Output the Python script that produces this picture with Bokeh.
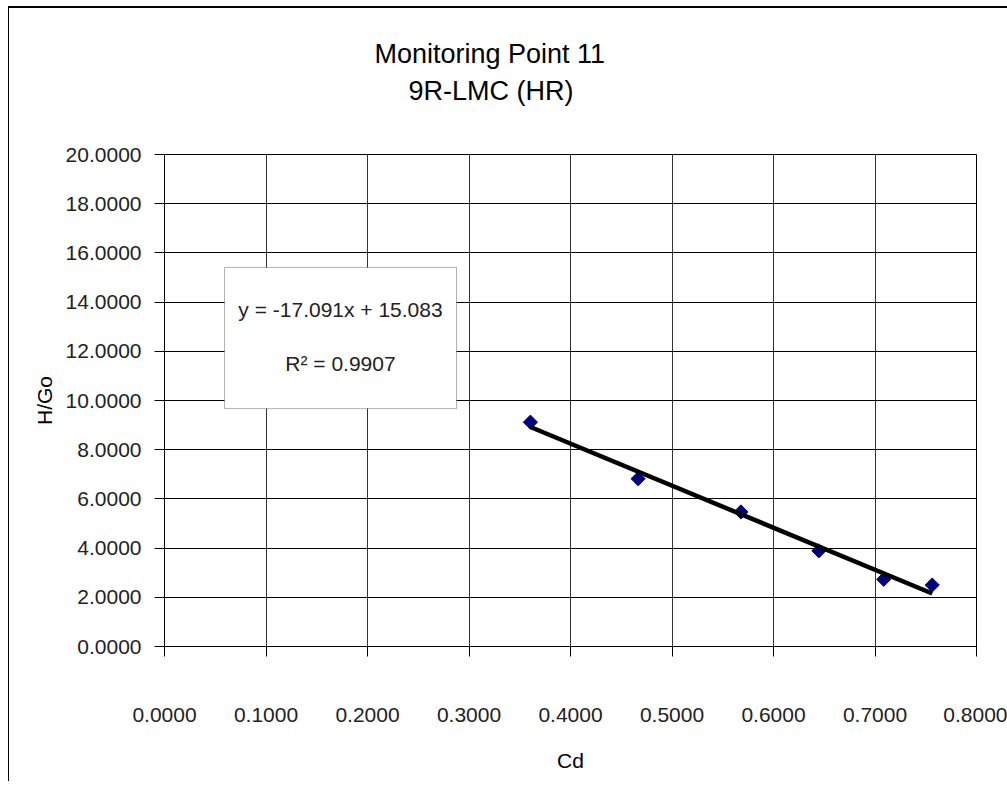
import math
from bokeh.plotting import figure
from bokeh.models import Range1d, FixedTicker, Label, BoxAnnotation, Title
from bokeh.embed import file_html
from bokeh.resources import INLINE

# ---- data ----
cd_values = [0.3605, 0.4666, 0.5679, 0.6447, 0.7086, 0.7564]
hgo_values = [9.12, 6.82, 5.47, 3.89, 2.73, 2.50]
trend_slope = -17.091
trend_intercept = 15.083
r_squared = 0.9907

x_ticks = [0.0, 0.1, 0.2, 0.3, 0.4, 0.5, 0.6, 0.7, 0.8]
x_tick_labels = ["0.0000", "0.1000", "0.2000", "0.3000", "0.4000",
                 "0.5000", "0.6000", "0.7000", "0.8000"]
y_ticks = [0, 2, 4, 6, 8, 10, 12, 14, 16, 18, 20]
y_tick_labels = ["0.0000", "2.0000", "4.0000", "6.0000", "8.0000", "10.0000",
                 "12.0000", "14.0000", "16.0000", "18.0000", "20.0000"]

title_1 = "Monitoring Point 11"
title_2 = "9R-LMC (HR)"
x_title = "Cd"
y_title = "H/Go"

FONT = "Liberation Sans"

p = figure(
    frame_width=812, frame_height=492,
    min_border_left=155, min_border_top=0, min_border_right=31, min_border_bottom=135,
    output_backend="svg", toolbar_location=None,
    x_range=Range1d(0, 0.8), y_range=Range1d(0, 20),
)
p.styles = {"border-left": "1px solid black", "border-top": "2px solid black",
            "margin-left": "8px", "margin-top": "6px"}
p.background_fill_color = "white"
p.border_fill_color = "white"
p.outline_line_color = "black"
p.outline_line_width = 1

# axes
p.xaxis.ticker = FixedTicker(ticks=x_ticks)
p.yaxis.ticker = FixedTicker(ticks=y_ticks)
p.xaxis.major_label_overrides = {t: l for t, l in zip(x_ticks, x_tick_labels)}
p.yaxis.major_label_overrides = {t: l for t, l in zip(y_ticks, y_tick_labels)}
for ax in (p.xaxis[0], p.yaxis[0]):
    ax.axis_line_color = "black"
    ax.major_tick_line_color = "black"
    ax.major_tick_out = 10
    ax.major_tick_in = 0
    ax.minor_tick_line_color = None
    ax.major_label_text_font = FONT
    ax.major_label_text_font_size = "21px"
    ax.major_label_text_color = "#222222"
    ax.axis_label_text_font = FONT
    ax.axis_label_text_font_size = "21px"
    ax.axis_label_text_font_style = "normal"
    ax.axis_label_text_color = "black"
p.xaxis.major_label_standoff = 51
p.yaxis.major_label_standoff = 13
p.xaxis.axis_label = x_title
p.yaxis.axis_label = y_title
p.xaxis.axis_label_standoff = 24
p.yaxis.axis_label_standoff = 7

p.xgrid.grid_line_color = "#333333"
p.ygrid.grid_line_color = "black"
p.xgrid.grid_line_width = 1
p.ygrid.grid_line_width = 1

# points then trend line on top
p.scatter(cd_values, hgo_values, marker="square", angle=math.pi / 4, size=10,
          fill_color="#000080", line_color="#000080")
x0, x1 = min(cd_values), max(cd_values)
p.line([x0, x1], [trend_slope * x0 + trend_intercept, trend_slope * x1 + trend_intercept],
       line_color="black", line_width=4.5)

# equation box
p.add_layout(BoxAnnotation(left=0.0591, right=0.2877, bottom=9.67, top=15.41,
                           fill_color="white", fill_alpha=1.0,
                           line_color="black", line_width=1))
p.add_layout(Label(x=0.1734, y=13.70,
                   text=f"y = {trend_slope}x + {trend_intercept}",
                   text_font=FONT, text_font_size="21px", text_color="#222222",
                   text_align="center", text_baseline="middle"))
p.add_layout(Label(x=0.1734, y=11.50,
                   text=f"R\u00b2 = {r_squared}",
                   text_font=FONT, text_font_size="21px", text_color="#222222",
                   text_align="center", text_baseline="middle"))

# titles (nearest to the frame first)
has_standoff = "standoff" in Title.properties()
p.add_layout(Title(text=" ", text_font=FONT, text_font_size="29px"), "above")
p.add_layout(Title(text=title_2, text_font=FONT, text_font_size="27px",
                   text_font_style="normal", text_color="black",
                   align="left", offset=244), "above")
t1 = Title(text=title_1, text_font=FONT, text_font_size="27px",
           text_font_style="normal", text_color="black",
           align="left", offset=210)
if has_standoff:
    t1.standoff = 0
p.add_layout(t1, "above")
p.add_layout(Title(text=" ", text_font=FONT, text_font_size="14px"), "above")

open("out.html", "w").write(file_html(p, INLINE))
